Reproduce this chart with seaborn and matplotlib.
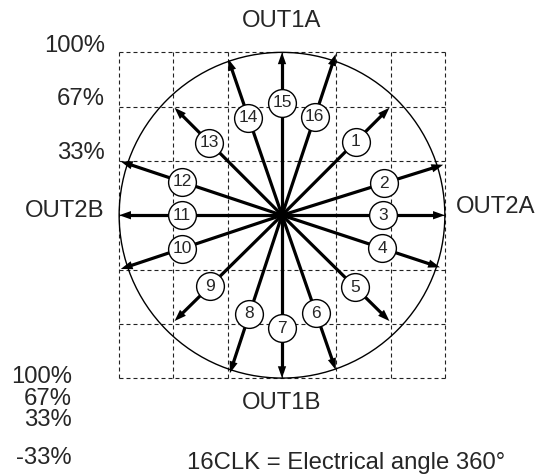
import numpy as np
import pandas as pd
import matplotlib
matplotlib.use("Agg")
import matplotlib.pyplot as plt
import seaborn as sns
from matplotlib.patches import Circle

# ---- data ----
steps = list(range(1, 17))
out2_current = [0.66, 0.99, 1.00, 0.97, 0.66, 0.33, 0.00, -0.32,
                -0.66, -0.99, -1.00, -0.99, -0.66, -0.33, 0.00, 0.33]
out1_current = [0.66, 0.31, 0.00, -0.32, -0.65, -0.95, -1.00, -0.97,
                -0.65, -0.33, 0.00, 0.33, 0.66, 0.96, 1.00, 0.99]
axis_labels = ["OUT1A", "OUT1B", "OUT2A", "OUT2B"]
level_labels = ["100%", "67%", "33%"]
legend_levels = ["100%", "67%", "33%", "-33%"]
caption = "16CLK = Electrical angle 360°"

# layout constants: where along each arrow the step number sits
label_frac = [0.685, 0.635, 0.62, 0.635, 0.68, 0.635, 0.695, 0.625,
              0.67, 0.62, 0.615, 0.62, 0.675, 0.625, 0.69, 0.61]

sns.set_style("white")
plt.rcParams["font.family"] = ["Liberation Sans", "DejaVu Sans"]

fig = plt.figure(figsize=(5.52, 4.74), dpi=100)
ax = fig.add_axes([0, 0, 1, 1])
ax.set_xlim(-1.7317, 1.658)
ax.set_ylim(-1.589, 1.3215)
ax.axis("off")

# dashed grid
grid_pos = np.linspace(-1, 1, 7)
ax.vlines(grid_pos, -1, 1, colors="#222222", linewidth=0.8,
          linestyles=(0, (3.6, 2.7)), zorder=1)
ax.hlines(grid_pos, -1, 1, colors="#222222", linewidth=0.8,
          linestyles=(0, (3.6, 2.7)), zorder=1)

# unit circle
ax.add_patch(Circle((0, 0), 1.0, fill=False, edgecolor="black", linewidth=1.0, zorder=2))

# spokes (seaborn line plot, one unit per step)
x = np.array(out2_current)
y = np.array(out1_current)
r = np.hypot(x, y)
head_back = 0.04
xe = x * (1 - head_back / r)
ye = y * (1 - head_back / r)
rows = []
for s, a, b in zip(steps, xe, ye):
    rows.append({"step": s, "x": 0.0, "y": 0.0, "o": 0})
    rows.append({"step": s, "x": a, "y": b, "o": 1})
df = pd.DataFrame(rows)
sns.lineplot(data=df, x="x", y="y", units="step", estimator=None, sort=False,
             color="black", linewidth=2.3, legend=False, ax=ax, zorder=3,
             solid_capstyle="butt")

# arrow heads
for a, b in zip(x, y):
    ax.annotate("", xy=(a, b), xytext=(0, 0),
                arrowprops=dict(arrowstyle="-|>,head_length=0.85,head_width=0.3",
                                mutation_scale=10, lw=0, color="black",
                                shrinkA=0, shrinkB=0), zorder=4)

# step number circles
frac = np.array(label_frac)
lx = x * frac
ly = y * frac
sns.scatterplot(x=lx, y=ly, s=400, color="white", edgecolor="black",
                linewidth=1.0, ax=ax, zorder=5, legend=False)
for s, a, b in zip(steps, lx, ly):
    ax.text(a, b, str(s), ha="center", va="center", fontsize=12.5, zorder=6)

fs = 17.2
ax.text(0.0, 1.19, axis_labels[0], ha="center", va="center", fontsize=fs)
ax.text(0.0, -1.15, axis_labels[1], ha="center", va="center", fontsize=fs)
ax.text(1.068, 0.052, axis_labels[2], ha="left", va="center", fontsize=fs)
ax.text(-1.087, 0.026, axis_labels[3], ha="right", va="center", fontsize=fs)

for lab, yy in zip(level_labels, [1.041, 0.712, 0.38]):
    ax.text(-1.087, yy, lab, ha="right", va="center", fontsize=fs)

for lab, yy in zip(legend_levels, [-0.992, -1.129, -1.258, -1.491]):
    ax.text(-1.29, yy, lab, ha="right", va="center", fontsize=fs)

ax.text(0.396, -1.522, caption, ha="center", va="center", fontsize=fs)

fig.savefig("out.png", dpi=100)
